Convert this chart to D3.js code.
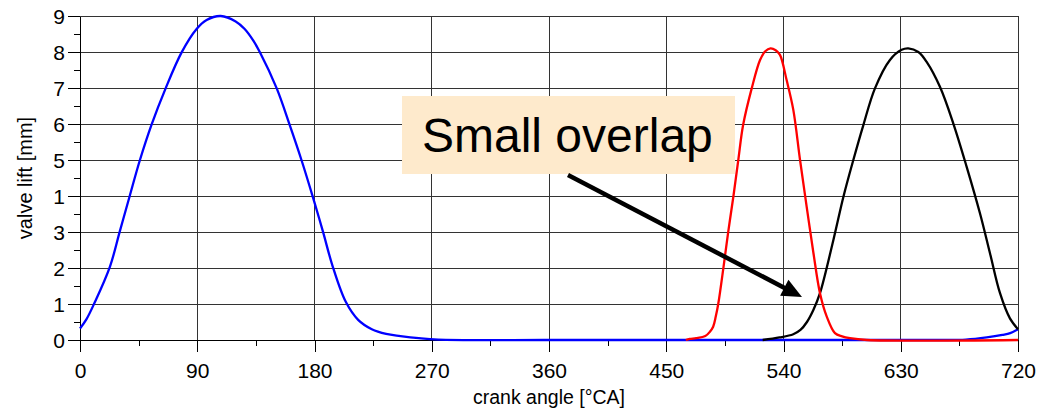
<!DOCTYPE html>
<html>
<head>
<meta charset="utf-8">
<script src="https://cdn.jsdelivr.net/npm/d3@7"></script>
<style>
  body { margin: 0; background: #fff; }
  text { font-family: "Liberation Sans", Arial, sans-serif; fill: #000; }
</style>
</head>
<body>
<div id="chart"></div>
<script>
// valve lift curves (crank angle in °CA, lift in mm)
var blueAngle = [0, 5, 11, 23, 30.5, 38, 46, 55, 65.5, 78, 89.5, 97.2, 108, 119.5, 126.4, 132.8, 138, 151, 161, 170, 179, 186.5, 194, 204, 213.5, 224, 235, 246, 260, 275, 360, 450, 540, 630, 660, 680, 696, 708, 714, 720];
var blueLift  = [0.32, 0.58, 1.02, 2.04, 3.01, 3.98, 5.0, 5.99, 6.97, 7.99, 8.64, 8.89, 9.0, 8.85, 8.64, 8.33, 8.0, 6.99, 5.97, 5.0, 3.94, 3.01, 2.04, 1.06, 0.56, 0.30, 0.17, 0.11, 0.05, 0.01, 0, 0, 0, 0, 0, 0.01, 0.07, 0.14, 0.19, 0.30];

var redAngle = [465, 468, 473, 480, 483.5, 486, 488, 490, 494, 497.6, 501.5, 505.3, 509, 515.6, 522, 526, 530, 534, 537.3, 542.4, 547.5, 552.7, 557.8, 563, 568, 573.2, 579.5, 585, 591, 604, 720];
var redLift  = [0, 0.03, 0.05, 0.11, 0.23, 0.37, 0.65, 1.02, 2.04, 3.01, 3.98, 5.0, 5.97, 6.99, 7.78, 8.02, 8.1, 8.05, 7.92, 7.22, 6.4, 5.0, 3.70, 2.41, 1.30, 0.65, 0.19, 0.10, 0.05, 0, 0];

var blackAngle = [524, 537, 547.5, 553, 558, 563, 568, 578.3, 586, 593.6, 601.3, 610.2, 621.7, 630.7, 635.8, 643.5, 650, 660, 670.3, 680.6, 690.8, 698.5, 706.2, 713.8, 720];
var blackLift  = [0, 0.07, 0.16, 0.28, 0.5, 0.84, 1.30, 2.78, 3.98, 5.0, 5.97, 6.99, 7.78, 8.06, 8.1, 8.0, 7.72, 7.04, 6.02, 4.81, 3.52, 2.41, 1.30, 0.60, 0.30];

var xTicks = [0, 90, 180, 270, 360, 450, 540, 630, 720];
var yTicks = [0, 1, 2, 3, 4, 5, 6, 7, 8, 9];
var yTickLabels = ["0", "1", "2", "3", "1", "5", "6", "7", "8", "9"];

var width = 1040, height = 411;

var svg = d3.select("#chart")
    .append("svg")
    .attr("width", width)
    .attr("height", height);

var x = d3.scaleLinear().domain([0, 720]).range([80, 1018]);
var y = d3.scaleLinear().domain([0, 9]).range([340, 16]);

// grid
var grid = svg.append("g")
    .attr("stroke", "#333")
    .attr("stroke-width", 1)
    .attr("shape-rendering", "crispEdges");

grid.selectAll("line.h")
    .data(yTicks.slice(1))
    .enter().append("line")
    .attr("x1", x(0)).attr("x2", x(720))
    .attr("y1", function(d) { return y(d); })
    .attr("y2", function(d) { return y(d); });

grid.selectAll("line.v")
    .data(xTicks.slice(1))
    .enter().append("line")
    .attr("y1", y(0)).attr("y2", y(9))
    .attr("x1", function(d) { return x(d); })
    .attr("x2", function(d) { return x(d); });

// minor ticks
var minorY = d3.range(0.5, 9, 1);
var minorX = d3.range(45, 720, 90);

svg.append("g")
    .attr("transform", "translate(" + x(0) + ",0)")
    .call(d3.axisLeft(y).tickValues(minorY).tickSize(6).tickFormat("").tickSizeOuter(0))
    .call(function(g) { g.select(".domain").remove(); });

svg.append("g")
    .attr("transform", "translate(0," + y(0) + ")")
    .call(d3.axisBottom(x).tickValues(minorX).tickSize(6).tickFormat("").tickSizeOuter(0))
    .call(function(g) { g.select(".domain").remove(); });

// main axes
var yAxis = svg.append("g")
    .attr("transform", "translate(" + x(0) + ",0)")
    .call(d3.axisLeft(y)
        .tickValues(yTicks)
        .tickSize(12)
        .tickSizeOuter(0)
        .tickPadding(3)
        .tickFormat(function(d, i) { return yTickLabels[i]; }));

var xAxis = svg.append("g")
    .attr("transform", "translate(0," + y(0) + ")")
    .call(d3.axisBottom(x)
        .tickValues(xTicks)
        .tickSize(12)
        .tickSizeOuter(0)
        .tickPadding(11));

svg.selectAll(".tick line, .domain")
    .attr("stroke", "#000")
    .attr("shape-rendering", "crispEdges");

svg.selectAll(".tick text")
    .style("font-family", "'Liberation Sans', Arial, sans-serif")
    .style("font-size", "21px")
    .attr("fill", "#000");

yAxis.selectAll(".tick text").attr("dy", "0.36em");

// axis titles
svg.append("text")
    .attr("x", 549)
    .attr("y", 404)
    .attr("text-anchor", "middle")
    .style("font-size", "19.5px")
    .text("crank angle [°CA]");

svg.append("text")
    .attr("transform", "translate(32,178) rotate(-90)")
    .attr("text-anchor", "middle")
    .style("font-size", "20px")
    .text("valve lift [mm]");

// curves
var line = d3.line()
    .x(function(d) { return x(d[0]); })
    .y(function(d) { return y(d[1]); })
    .curve(d3.curveCatmullRom.alpha(0.5));

function drawCurve(angles, lifts, color) {
    svg.append("path")
        .datum(d3.zip(angles, lifts))
        .attr("fill", "none")
        .attr("stroke", color)
        .attr("stroke-width", 2.3)
        .attr("d", line);
}

drawCurve(blueAngle, blueLift, "#0000ff");
drawCurve(blackAngle, blackLift, "#000000");
drawCurve(redAngle, redLift, "#ff0000");

// annotation
var note = svg.append("g");
note.append("rect")
    .attr("x", 402)
    .attr("y", 96)
    .attr("width", 333)
    .attr("height", 78)
    .attr("fill", "#feeacc");

note.append("text")
    .attr("x", 422)
    .attr("y", 152)
    .style("font-size", "48px")
    .text("Small overlap");

var tail = [568, 175], tip = [802, 297];
var dx = tip[0] - tail[0], dy = tip[1] - tail[1];
var len = Math.sqrt(dx * dx + dy * dy);
var ux = dx / len, uy = dy / len;
var headLen = 20, headHalf = 9;
var bx = tip[0] - ux * headLen, by = tip[1] - uy * headLen;

note.append("line")
    .attr("x1", tail[0]).attr("y1", tail[1])
    .attr("x2", bx + ux * 2).attr("y2", by + uy * 2)
    .attr("stroke", "#000")
    .attr("stroke-width", 4.5);

note.append("polygon")
    .attr("points", [
        [tip[0], tip[1]],
        [bx - uy * headHalf, by + ux * headHalf],
        [bx + uy * headHalf, by - ux * headHalf]
    ].map(function(p) { return p.join(","); }).join(" "))
    .attr("fill", "#000");
</script>
</body>
</html>
